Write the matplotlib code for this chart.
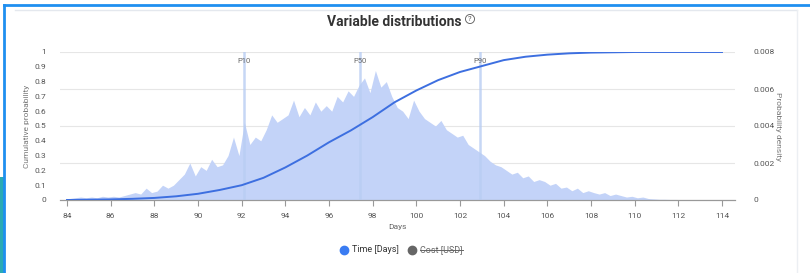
import numpy as np
import matplotlib.pyplot as plt
from matplotlib.lines import Line2D
from matplotlib.patches import Rectangle

# histogram bins (days), width 0.25
bin_start = 84.0
bin_width = 0.25
# probability density, in units of 1e-4
density_e4 = [
    0.8, 1.2, 1.6, 1.2, 1.6, 1.2, 2.0, 1.6, 2.0, 1.6, 2.4, 3.2,
    4.0, 3.2, 6.4, 4.0, 4.8, 8.0, 6.4, 8.0, 11, 14, 20, 13,
    18, 16, 22, 18, 19, 24, 34, 24, 42, 30, 34, 32,
    38, 46, 42, 44, 46, 54, 45, 50, 46, 53, 48, 51,
    48, 56, 53, 59, 56, 62, 66, 58, 70, 61, 64, 56,
    50, 48, 44, 54, 48, 44, 42, 40, 43, 38, 36, 34,
    35, 30, 28, 26, 24, 21, 19, 18, 16, 14, 15, 12,
    13, 10, 11, 10, 8, 9, 6.4, 7, 5, 6.4, 4, 5,
    4, 3.2, 4, 2.4, 3.2, 2.4, 1.6, 2.0, 1.2, 1.6, 0.8, 0.6,
    0.4, 0.4, 0.3, 0.3, 0.2, 0.2, 0.2, 0.1, 0.2, 0.1, 0.1, 0.1,
]

# cumulative probability
cdf_days = [84, 85, 86, 87, 88, 89, 90, 91, 92, 93, 94, 95, 96, 97, 98,
            99, 100, 101, 102, 103, 104, 105, 106, 107, 108, 109, 110, 114]
cdf_vals = [0.0, 0.002, 0.004, 0.008, 0.014, 0.025, 0.042, 0.068, 0.10, 0.15,
            0.22, 0.30, 0.39, 0.47, 0.56, 0.66, 0.74, 0.81, 0.865, 0.905,
            0.945, 0.968, 0.982, 0.991, 0.996, 0.998, 1.0, 1.0]

pct_labels = ['P10', 'P50', 'P90']
pct_days = [92.1, 97.4, 102.9]

xticks = list(range(84, 115, 2))
left_ticks = [0, 0.1, 0.2, 0.3, 0.4, 0.5, 0.6, 0.7, 0.8, 0.9, 1]
left_ticklabels = ['0', '0.1', '0.2', '0.3', '0.4', '0.5', '0.6', '0.7', '0.8', '0.9', '1']
right_ticks = [0, 0.002, 0.004, 0.006, 0.008]
right_ticklabels = ['0', '0.002', '0.004', '0.006', '0.008']

W, H = 810, 273
plt.rcParams['font.family'] = ['Roboto', 'DejaVu Sans']
fig = plt.figure(figsize=(W / 100, H / 100), dpi=100)

def fx(px):
    return px / W

def fy(py):
    return 1 - py / H

# screenshot frame
fig.add_artist(Rectangle((0, 0), fx(4), fy(177), transform=fig.transFigure,
                         color='#2aaab5', lw=0))
fig.add_artist(Line2D([fx(4), fx(4)], [0, fy(5)], transform=fig.transFigure,
                      color='#1f8ff0', lw=2))
fig.add_artist(Line2D([fx(4), 1], [fy(5), fy(5)], transform=fig.transFigure,
                      color='#1f8ff0', lw=2))
fig.add_artist(Line2D([fx(15), fx(797)], [fy(10), fy(10)], transform=fig.transFigure,
                      color='#e4e8ee', lw=1))
fig.add_artist(Line2D([fx(797), fx(797)], [0, fy(10)], transform=fig.transFigure,
                      color='#eceff3', lw=1))

ax = fig.add_axes([fx(60), fy(200), fx(735) - fx(60), fy(52) - fy(200)])
ax2 = ax.twinx()
ax.set_zorder(ax2.get_zorder() + 1)
ax.patch.set_visible(False)

centers = bin_start + bin_width * (np.arange(len(density_e4)) + 0.5)
dens = np.array(density_e4) * 1e-4
ax2.fill_between(centers, dens, 0, color='#c3d3f8', lw=0)
ax2.set_ylim(0, 0.008)
ax2.set_yticks(right_ticks)
ax2.set_yticklabels(right_ticklabels)
ax2.yaxis.grid(True, color='#e6e6e6', lw=0.8)
ax2.set_axisbelow(True)

for lab, d in zip(pct_labels, pct_days):
    ax.axvline(d, color='#b8cdf3', lw=1.8, alpha=0.8, zorder=1)
    ax.text(d, 0.94, lab, ha='center', va='center', fontsize=5.5, color='#666666')

ax.plot(cdf_days, cdf_vals, color='#3d6fe0', lw=1.4, zorder=3)

ax.set_xlim(84 - 7 / 21.83, 114 + 13 / 21.83)
ax.set_ylim(0, 1)
ax.set_xticks(xticks)
ax.set_yticks(left_ticks)
ax.set_yticklabels(left_ticklabels)

for a in (ax, ax2):
    for s in ('top', 'left', 'right'):
        a.spines[s].set_visible(False)
    a.spines['bottom'].set_color('#999999')
    a.tick_params(labelsize=6, colors='#555555')
ax.tick_params(axis='y', length=0, pad=10)
ax2.tick_params(axis='y', length=0, pad=13)
ax.tick_params(axis='x', length=4, color='#999999', pad=5)

ax.set_xlabel('Days', fontsize=6, color='#666666', labelpad=4)
ax.set_ylabel('Cumulative probability', fontsize=6, color='#777777')
ax.yaxis.set_label_coords(-0.044, 0.5)
ax2.set_ylabel('Probability density', fontsize=6, color='#777777', rotation=270,
               va='center')
ax2.yaxis.set_label_coords(1.064, 0.5)

fig.text(fx(394), fy(22), 'Variable distributions', ha='center', va='center',
         fontsize=10, fontweight='bold', color='#333333')
fig.text(fx(470), fy(19), '?', ha='center', va='center', fontsize=5.5, color='#555555',
         bbox=dict(boxstyle='circle,pad=0.2', fc='white', ec='#555555', lw=0.6))

# legend
fig.add_artist(Line2D([fx(344)], [fy(250)], marker='o', ms=6, color='#3a7cf2',
                      transform=fig.transFigure, lw=0))
fig.text(fx(352), fy(250), 'Time [Days]', ha='left', va='center', fontsize=6.5,
         color='#333333')
fig.add_artist(Line2D([fx(412)], [fy(250)], marker='o', ms=6, color='#666666',
                      transform=fig.transFigure, lw=0))
cost = fig.text(fx(420), fy(250), 'Cost [USD]', ha='left', va='center', fontsize=6.5,
                color='#666666')
fig.canvas.draw()
bb = cost.get_window_extent().transformed(fig.transFigure.inverted())
fig.add_artist(Line2D([bb.x0, bb.x1], [fy(250), fy(250)], transform=fig.transFigure,
                      color='#666666', lw=0.7))

fig.savefig('out.png', dpi=100)
